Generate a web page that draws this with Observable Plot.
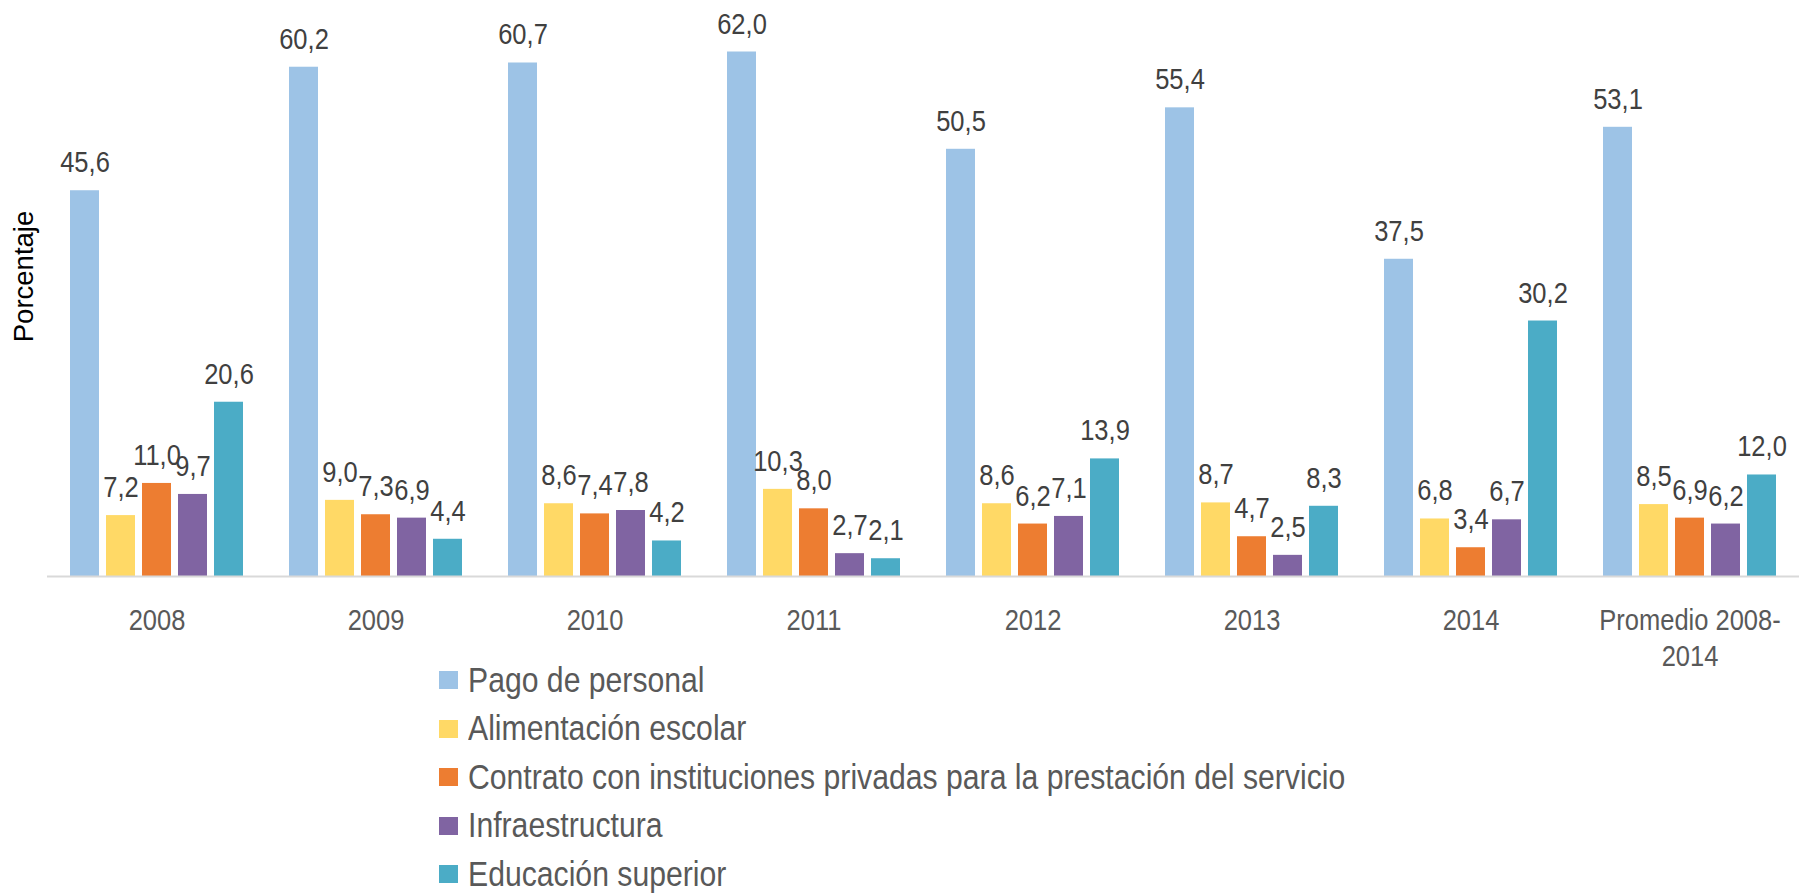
<!DOCTYPE html>
<html>
<head>
<meta charset="utf-8">
<script src="https://cdn.jsdelivr.net/npm/d3@7"></script>
<script src="https://cdn.jsdelivr.net/npm/@observablehq/plot@0.6"></script>
<style>
  html, body { margin: 0; padding: 0; background: #fff; }
  #wrap { position: relative; width: 1806px; height: 894px; }
  #legend { position: absolute; left: 439px; top: 656px; font-family: "Liberation Sans", Arial, sans-serif; font-size: 35.5px; color: #595959; }
  .row { display: flex; align-items: center; height: 48.5px; white-space: nowrap; }
  .sw { width: 19px; height: 18px; margin-right: 10px; flex: none; }
  .lab { line-height: 1; transform: scaleX(0.85); transform-origin: left center; }
</style>
</head>
<body>
<div id="wrap"><div id="chart"></div><div id="legend"></div></div>
<script>
const years = ["2008", "2009", "2010", "2011", "2012", "2013", "2014", "Promedio 2008-2014"];
const series = [
  "Pago de personal",
  "Alimentación escolar",
  "Contrato con instituciones privadas para la prestación del servicio",
  "Infraestructura",
  "Educación superior"
];
const pago = [45.6, 60.2, 60.7, 62.0, 50.5, 55.4, 37.5, 53.1];
const alimentacion = [7.2, 9.0, 8.6, 10.3, 8.6, 8.7, 6.8, 8.5];
const contrato = [11.0, 7.3, 7.4, 8.0, 6.2, 4.7, 3.4, 6.9];
const infraestructura = [9.7, 6.9, 7.8, 2.7, 7.1, 2.5, 6.7, 6.2];
const educacion = [20.6, 4.4, 4.2, 2.1, 13.9, 8.3, 30.2, 12.0];
const colors = ["#9DC3E6", "#FFD966", "#ED7D31", "#8064A2", "#4BACC6"];
const yLabel = "Porcentaje";

const valuesBySeries = [pago, alimentacion, contrato, infraestructura, educacion];
const data = [];
years.forEach((yr, i) => {
  series.forEach((s, j) => data.push({year: yr, series: s, value: valuesBySeries[j][i]}));
});

const fmt = v => d3.format(".1f")(v).replace(".", ",");
const font = "'Liberation Sans', Arial, sans-serif";

const chart = Plot.plot({
  width: 1806,
  height: 670,
  marginLeft: 47,
  marginRight: 7,
  marginTop: 51.5,
  marginBottom: 94,
  style: {fontFamily: font, background: "white", overflow: "visible"},
  fx: {domain: years, paddingInner: 0, paddingOuter: 0, axis: null, label: null},
  x: {domain: series, paddingInner: 0.2055, paddingOuter: 0.603, axis: null},
  y: {domain: [0, 62], axis: null},
  color: {domain: series, range: colors},
  marks: [
    Plot.barY(data, {fx: "year", x: "series", y: "value", fill: "series"}),
    Plot.ruleY([0], {stroke: "#D9D9D9", strokeWidth: 2}),
    Plot.text(data, {fx: "year", x: "series", y: "value", text: d => fmt(d.value), dy: -18.5, lineAnchor: "bottom", fontSize: 30, fill: "#404040"}),
    Plot.axisFx({anchor: "bottom", tickSize: 0, tickPadding: 29, fontSize: 30, lineHeight: 1.17, fill: "#595959", label: null,
      tickFormat: d => d === "Promedio 2008-2014" ? "Promedio 2008-\n2014" : d}),
    Plot.text([yLabel], {facet: "super", frameAnchor: "left", rotate: -90, text: d => d, lineAnchor: "bottom", textAnchor: "middle",
      dx: -14.5, dy: -37.75, fontSize: 27.5, fill: "#000"})
  ]
});
document.getElementById("chart").appendChild(chart);

// horizontal squeeze of the (narrow-looking) reference typography; the rotated y label keeps its length
d3.select(chart).selectAll("text").each(function() {
  const t = this.getAttribute("transform") || "";
  if (t.includes("rotate")) return;
  this.setAttribute("transform", (t + " scale(0.85,1)").trim());
});

const legend = d3.select("#legend");
series.forEach((s, j) => {
  const row = legend.append("div").attr("class", "row");
  row.append("div").attr("class", "sw").style("background", colors[j]);
  row.append("div").attr("class", "lab").text(s);
});
</script>
</body>
</html>
